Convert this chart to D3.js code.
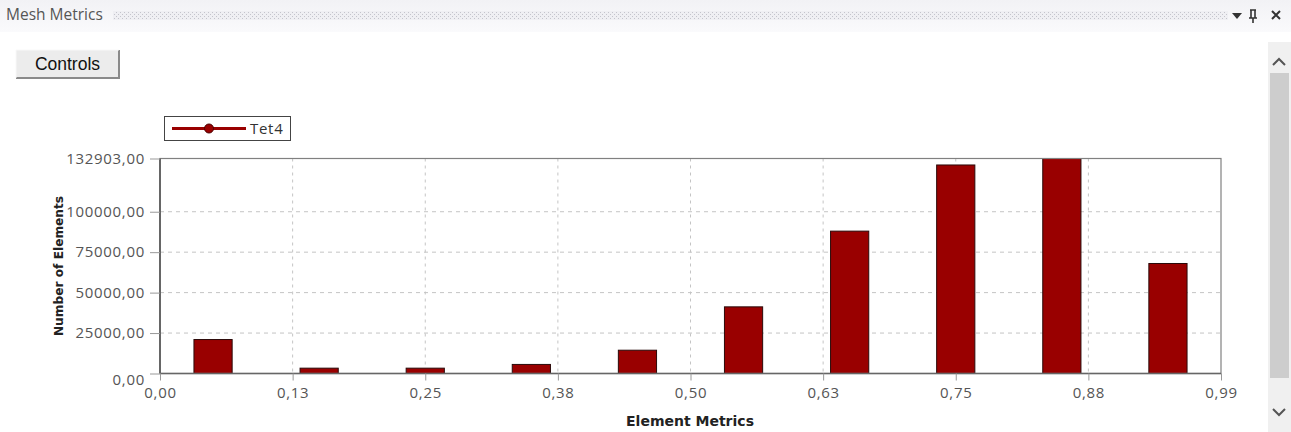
<!DOCTYPE html>
<html><head><meta charset="utf-8">
<script src="https://cdn.jsdelivr.net/npm/d3@7"></script>
<style>
html,body{margin:0;padding:0;background:#fff;overflow:hidden;}
svg{display:block;}
</style></head>
<body>
<svg id="c" width="1291" height="432"></svg>
<script>
// ---- data ----
const binCenters = [0.05, 0.15, 0.25, 0.35, 0.45, 0.55, 0.65, 0.75, 0.85, 0.95];
const counts = [21000, 3300, 3300, 5600, 14400, 41200, 88000, 128900, 132903, 68000];
const xTickValues = [0, 0.125, 0.25, 0.375, 0.5, 0.625, 0.75, 0.875, 1.0];
const xTickLabels = ["0,00", "0,13", "0,25", "0,38", "0,50", "0,63", "0,75", "0,88", "0,99"];
const yTickValues = [0, 25000, 50000, 75000, 100000, 132903];
const yTickLabels = ["0,00", "25000,00", "50000,00", "75000,00", "100000,00", "132903,00"];
const seriesName = "Tet4";
const binWidth = 0.036;

const svg = d3.select("#c");
const W = 1291, H = 432;

// header bar
const defs = svg.append("defs");
const hg = defs.append("linearGradient").attr("id","hg").attr("x1",0).attr("y1",0).attr("x2",0).attr("y2",1);
hg.append("stop").attr("offset","0").attr("stop-color","#f2f2f5");
hg.append("stop").attr("offset","1").attr("stop-color","#fafafc");
const pat = defs.append("pattern").attr("id","dots").attr("width",4).attr("height",4).attr("patternUnits","userSpaceOnUse");
pat.append("rect").attr("width",4).attr("height",4).attr("fill","#efeff3");
pat.append("rect").attr("x",0).attr("y",0).attr("width",1).attr("height",1).attr("fill","#c4c4cc");
pat.append("rect").attr("x",2).attr("y",2).attr("width",1).attr("height",1).attr("fill","#c4c4cc");

svg.append("rect").attr("x",0).attr("y",0).attr("width",W).attr("height",32).attr("fill","url(#hg)");
svg.append("text").attr("x",6).attr("y",20).attr("font-family","'Open Sans', sans-serif")
  .attr("font-size",15.5).attr("fill","#555").text("Mesh Metrics");
svg.append("rect").attr("x",113).attr("y",11).attr("width",1115).attr("height",9).attr("fill","url(#dots)");
// header icons
svg.append("path").attr("d","M1232,13 L1242,13 L1237,19 Z").attr("fill","#333");
svg.append("path").attr("d","M1250,10 L1256,10 M1251,10 L1251,18 M1255,10 L1255,18 M1249,18 L1257,18 M1253,18 L1253,23")
  .attr("stroke","#333").attr("stroke-width",1.6).attr("fill","none");
svg.append("path").attr("d","M1272,11 L1280,19 M1280,11 L1272,19").attr("stroke","#333").attr("stroke-width",2).attr("fill","none");

// controls button
const btn = svg.append("g");
btn.append("rect").attr("x",16).attr("y",50).attr("width",103).attr("height",28).attr("fill","#ececec");
btn.append("path").attr("d","M119,50 L119,78 L16,78").attr("stroke","#8a8a8a").attr("stroke-width",2).attr("fill","none");
btn.append("path").attr("d","M16,78 L16,50 L119,50").attr("stroke","#f8f8f8").attr("stroke-width",1).attr("fill","none");
btn.append("text").attr("x",67.5).attr("y",69.5).attr("text-anchor","middle")
  .attr("font-family","'Liberation Sans', Arial, sans-serif").attr("font-size",17.5).attr("fill","#111").text("Controls");

// scrollbar
svg.append("rect").attr("x",1268).attr("y",42).attr("width",23).attr("height",390).attr("fill","#f0f0f0");
svg.append("rect").attr("x",1270).attr("y",73).attr("width",19).attr("height",305).attr("fill","#cdcdcd");
svg.append("path").attr("d","M1273,65 L1279,59 L1285,65").attr("stroke","#555").attr("stroke-width",2).attr("fill","none");
svg.append("path").attr("d","M1273,409 L1279,415 L1285,409").attr("stroke","#555").attr("stroke-width",2).attr("fill","none");

// ---- chart ----
const L = 160, R = 1221, T = 158.5, B = 373.5;
const x = d3.scaleLinear().domain([0, 1]).range([L, R]);
const y = d3.scaleLinear().domain([0, 132903]).range([B, T]);

const tickFont = "'Open Sans', 'Segoe UI', sans-serif";

// grid
const g = svg.append("g");
g.selectAll(".gy").data(yTickValues.filter(v => v > 0 && v < 132903)).join("line")
  .attr("x1", L).attr("x2", R).attr("y1", d => y(d)).attr("y2", d => y(d))
  .attr("stroke","#c4c4c4").attr("stroke-dasharray","4,4").attr("stroke-width",1);
g.selectAll(".gx").data(xTickValues.filter(v => v > 0 && v < 1)).join("line")
  .attr("x1", d => x(d)).attr("x2", d => x(d)).attr("y1", T).attr("y2", B)
  .attr("stroke","#c4c4c4").attr("stroke-dasharray","3,4").attr("stroke-width",1);

// bars
svg.append("g").selectAll("rect").data(binCenters).join("rect")
  .attr("x", (d) => x(d - binWidth/2))
  .attr("width", (d) => x(binWidth) - x(0))
  .attr("y", (d,i) => y(counts[i]))
  .attr("height", (d,i) => B - y(counts[i]))
  .attr("fill","#990000").attr("stroke","#2a0a0a").attr("stroke-width",1);

// frame
svg.append("rect").attr("x",L).attr("y",T).attr("width",R-L).attr("height",B-T)
  .attr("fill","none").attr("stroke","#808080").attr("stroke-width",1.2);
svg.append("line").attr("x1",L).attr("x2",L).attr("y1",T).attr("y2",B).attr("stroke","#666").attr("stroke-width",2);
svg.append("line").attr("x1",L).attr("x2",R).attr("y1",B).attr("y2",B).attr("stroke","#666").attr("stroke-width",1.5);

// y axis
const yAxis = d3.axisLeft(y).tickValues(yTickValues).tickFormat((d,i) => yTickLabels[i]).tickSize(10).tickPadding(5);
const ya = svg.append("g").attr("transform",`translate(${L},0)`).call(yAxis);
ya.select(".domain").remove();
ya.selectAll(".tick line").attr("stroke","#999");
ya.selectAll(".tick text").attr("font-family",tickFont).attr("font-size",15).attr("letter-spacing","0.7px").attr("fill","#555");
ya.selectAll(".tick").filter(d => d === 0).select("text").attr("dy","0.7em");

// x axis
const xAxis = d3.axisBottom(x).tickValues(xTickValues).tickFormat((d,i) => xTickLabels[i]).tickSize(7).tickPadding(7);
const xa = svg.append("g").attr("transform",`translate(0,${B})`).call(xAxis);
xa.select(".domain").remove();
xa.selectAll(".tick line").attr("stroke","#999");
xa.selectAll(".tick text").attr("font-family",tickFont).attr("font-size",15).attr("letter-spacing","0.7px").attr("fill","#555");

// axis titles
svg.append("text").attr("x", 690).attr("y", 426).attr("text-anchor","middle")
  .attr("font-family","'DejaVu Sans', Tahoma, sans-serif").attr("font-weight","bold").attr("font-size",14)
  .attr("fill","#222").text("Element Metrics");
svg.append("text").attr("transform", `translate(63,${(T+B)/2}) rotate(-90)`).attr("text-anchor","middle")
  .attr("font-family","'DejaVu Sans', Tahoma, sans-serif").attr("font-weight","bold").attr("font-size",12.2)
  .attr("fill","#222").text("Number of Elements");

// legend
const lg = svg.append("g");
lg.append("rect").attr("x",164.5).attr("y",116.5).attr("width",126).attr("height",24)
  .attr("fill","#fff").attr("stroke","#444").attr("stroke-width",1);
lg.append("line").attr("x1",172).attr("x2",246).attr("y1",128.5).attr("y2",128.5)
  .attr("stroke","#990000").attr("stroke-width",3);
lg.append("circle").attr("cx",209).attr("cy",128.5).attr("r",4.5).attr("fill","#990000").attr("stroke","#4a0000");
lg.append("text").attr("x",250).attr("y",134).attr("font-family",tickFont).attr("font-size",15).attr("letter-spacing","0.7px")
  .attr("fill","#333").text(seriesName);
</script>
</body></html>
